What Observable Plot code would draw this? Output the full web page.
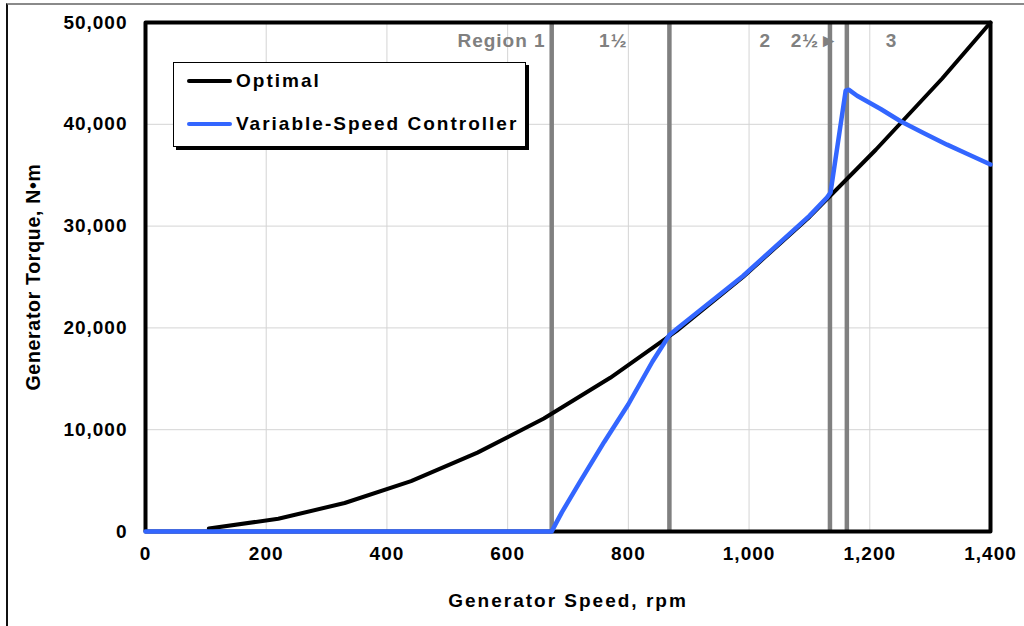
<!DOCTYPE html>
<html>
<head>
<meta charset="utf-8">
<script src="https://cdn.jsdelivr.net/npm/d3@7"></script>
<script src="https://cdn.jsdelivr.net/npm/@observablehq/plot@0.6"></script>
<style>
  html, body { margin: 0; padding: 0; background: #fff; }
  #wrap { position: relative; width: 1024px; height: 626px; overflow: hidden; font-family: "Liberation Sans", Arial, sans-serif; }
  #border { position: absolute; left: 6px; top: 3px; right: 0; bottom: 0; border-left: 2px solid #111; border-top: 2px solid #8a8a8a; pointer-events: none; }
  #legend { position: absolute; left: 173px; top: 62px; width: 351px; height: 83px; border: 1.5px solid #000; background: #fff; box-shadow: 3px 3px 0 #000; }
  .li { position: absolute; left: 13px; display: flex; align-items: center; font-weight: bold; font-size: 19px; letter-spacing: 2px; color: #000; }
  .sw { display: inline-block; width: 45px; height: 4.5px; border-radius: 2px; margin-right: 4px; }
  svg text { letter-spacing: 1px; }
</style>
</head>
<body>
<div id="wrap">
  <div id="chart"></div>
  <div id="border"></div>
  <div id="legend"></div>
</div>
<script>
// ---- data ----
const optimalRpm    = [105, 220, 330, 440, 550, 660, 770, 880, 990, 1100, 1210, 1320, 1400];
const optimalTorque = [300, 1250, 2800, 4950, 7750, 11100, 15100, 19700, 25000, 30900, 37500, 44500, 50000];

const controllerRpm    = [0, 673, 680, 690, 720, 760, 800, 840, 868, 880, 990, 1100, 1129, 1135, 1160, 1165, 1179, 1218, 1251, 1289, 1328, 1361, 1400];
const controllerTorque = [0, 0, 800, 1900, 4900, 8800, 12500, 16700, 19300, 19900, 25100, 31000, 32800, 33300, 43300, 43400, 42800, 41500, 40300, 39150, 38000, 37100, 36050];

const regionBoundaries = [673, 868, 1134, 1162];
const regionLabels     = ["Region 1", "1½", "2", "2½►", "3"];
const regionLabelRpm   = [663, 775, 1027, 1069, 1236];
const regionLabelAlign = ["end", "middle", "middle", "start", "middle"];

const xTicks = [0, 200, 400, 600, 800, 1000, 1200, 1400];
const yTicks = [0, 10000, 20000, 30000, 40000, 50000];

const seriesNames  = ["Optimal", "Variable-Speed Controller"];
const seriesColors = ["#000000", "#3366ff"];

// ---- tables ----
const optimal = optimalRpm.map((r, i) => ({rpm: r, torque: optimalTorque[i]}));
const controller = controllerRpm.map((r, i) => ({rpm: r, torque: controllerTorque[i]}));
const labels = regionLabels.map((t, i) => ({text: t, rpm: regionLabelRpm[i], anchor: regionLabelAlign[i]}));

const fmt = d3.format(",");

const chart = Plot.plot({
  width: 1024,
  height: 626,
  marginLeft: 145,
  marginRight: 34,
  marginTop: 22,
  marginBottom: 95,
  style: {fontFamily: "'Liberation Sans', Arial, sans-serif", fontSize: "19px", fontWeight: "bold", color: "#000", background: "transparent"},
  x: {domain: [0, 1400]},
  y: {domain: [0, 50000]},
  marks: [
    Plot.gridX(xTicks, {stroke: "#d4d4d4", strokeOpacity: 1, strokeWidth: 1}),
    Plot.gridY(yTicks, {stroke: "#d4d4d4", strokeOpacity: 1, strokeWidth: 1}),
    Plot.axisX({ticks: xTicks, tickSize: 0, tickPadding: 15, tickFormat: fmt, label: "Generator Speed, rpm", labelAnchor: "center", labelOffset: 75, labelArrow: "none", fontWeight: "bold", fontSize: 19}),
    Plot.axisY({ticks: yTicks, tickSize: 0, tickPadding: 18, tickFormat: fmt, label: "Generator Torque, N•m", labelAnchor: "center", labelOffset: 119, labelArrow: "none", fontWeight: "bold", fontSize: 19}),
    ...["end", "middle", "start"].map(a => Plot.text(labels.filter(d => d.anchor === a), {x: "rpm", text: "text", frameAnchor: "top", dy: 11, textAnchor: a, fill: "#808080", fontWeight: "bold", fontSize: 19})),
    Plot.ruleX(regionBoundaries, {stroke: "#808080", strokeWidth: 4.5}),
    Plot.frame({stroke: "#000", strokeWidth: 4, strokeLinejoin: "round"}),
    Plot.line(optimal, {x: "rpm", y: "torque", stroke: seriesColors[0], strokeWidth: 4}),
    Plot.line(controller, {x: "rpm", y: "torque", stroke: seriesColors[1], strokeWidth: 4.5})
  ]
});
document.getElementById("chart").appendChild(chart);

// axis titles letter spacing
chart.querySelectorAll('[aria-label="x-axis label"] text').forEach(t => t.style.letterSpacing = "2px");
chart.querySelectorAll('[aria-label="y-axis label"] text').forEach(t => { t.style.letterSpacing = "0.7px"; t.style.fontSize = "19.5px"; });

// legend
const lg = document.getElementById("legend");
seriesNames.forEach((n, i) => {
  const row = document.createElement("div");
  row.className = "li";
  row.style.top = (i === 0 ? 7 : 50) + "px";
  const sw = document.createElement("span");
  sw.className = "sw";
  sw.style.background = seriesColors[i];
  row.appendChild(sw);
  row.appendChild(document.createTextNode(n));
  lg.appendChild(row);
});
</script>
</body>
</html>
